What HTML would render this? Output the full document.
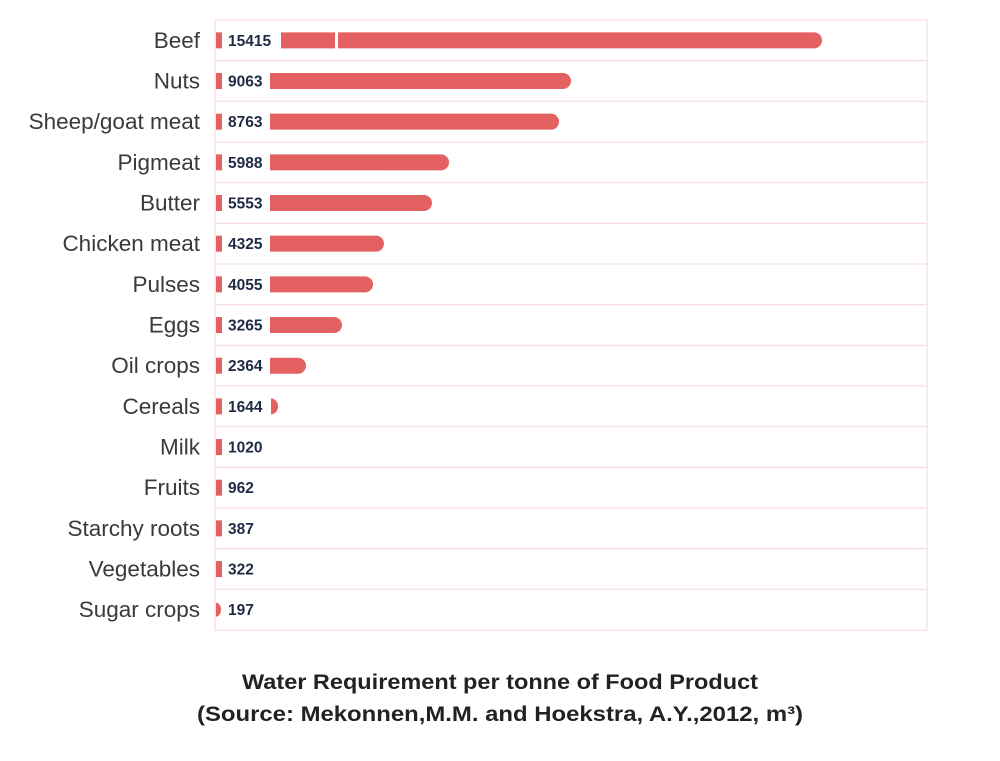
<!DOCTYPE html>
<html><head><meta charset="utf-8"><style>
html,body{margin:0;padding:0;background:#fff;width:1000px;height:761px;overflow:hidden}
</style></head><body>
<svg width="1000" height="761" xmlns="http://www.w3.org/2000/svg" font-family="Liberation Sans, sans-serif">
<g id="c"></g>
<text x="242" y="689" font-size="21" font-weight="bold" fill="#222" textLength="516" lengthAdjust="spacingAndGlyphs">Water Requirement per tonne of Food Product</text>
<text x="197" y="721" font-size="21" font-weight="bold" fill="#222" textLength="606" lengthAdjust="spacingAndGlyphs">(Source: Mekonnen,M.M. and Hoekstra, A.Y.,2012,  m³)</text>
</svg>
<script>
(function(){
var d=[["Beef",15415],["Nuts",9063],["Sheep/goat meat",8763],["Pigmeat",5988],["Butter",5553],["Chicken meat",4325],["Pulses",4055],["Eggs",3265],["Oil crops",2364],["Cereals",1644],["Milk",1020],["Fruits",962],["Starchy roots",387],["Vegetables",322],["Sugar crops",197]];
var ends=[822,571,559,449,432,384,373,342,306,278,0,0,0,0,0];
var g=document.getElementById('c');var s='';
var T=20,h=40.67;
s+='<rect x="215" y="20" width="712" height="610" fill="none" stroke="#f7dde2" stroke-width="1.2"/>';
for(var i=0;i<15;i++){
 var y0=T+i*h,cy=y0+h/2;
 if(i>0)s+='<line x1="215" x2="927" y1="'+y0+'" y2="'+y0+'" stroke="#f7dde2" stroke-width="1.2"/>';
 s+='<text x="200" y="'+(cy+7.5)+'" text-anchor="end" font-size="22.5" fill="#3a3a3a">'+d[i][0]+'</text>';
 var e=ends[i];
 var len=String(d[i][1]).length;
 if(i==14){s+='<path d="M216 '+(cy-7)+' A5 7 0 0 1 216 '+(cy+7)+' Z" fill="#e46162"/>';}
 else{
  s+='<rect x="216" y="'+(cy-8)+'" width="6" height="16" fill="#e46162"/>';
  if(e>0){var bx=len==5?281:270;
   if(i==9)s+='<path d="M271 '+(cy-8)+' A7 8 0 0 1 271 '+(cy+8)+' Z" fill="#e46162"/>';
   else s+='<path d="M'+bx+' '+(cy-8)+' H'+(e-8)+' A8 8 0 0 1 '+(e-8)+' '+(cy+8)+' H'+bx+' Z" fill="#e46162"/>';
   if(i==0)s+='<rect x="335" y="'+(cy-9)+'" width="3" height="18" fill="#fff"/>';}
 }
 s+='<text x="228" y="'+(cy+5.5)+'" font-size="15.5" font-weight="bold" fill="#1f2a44">'+d[i][1]+'</text>';
}
g.innerHTML=s;
})();
</script>
</body></html>
